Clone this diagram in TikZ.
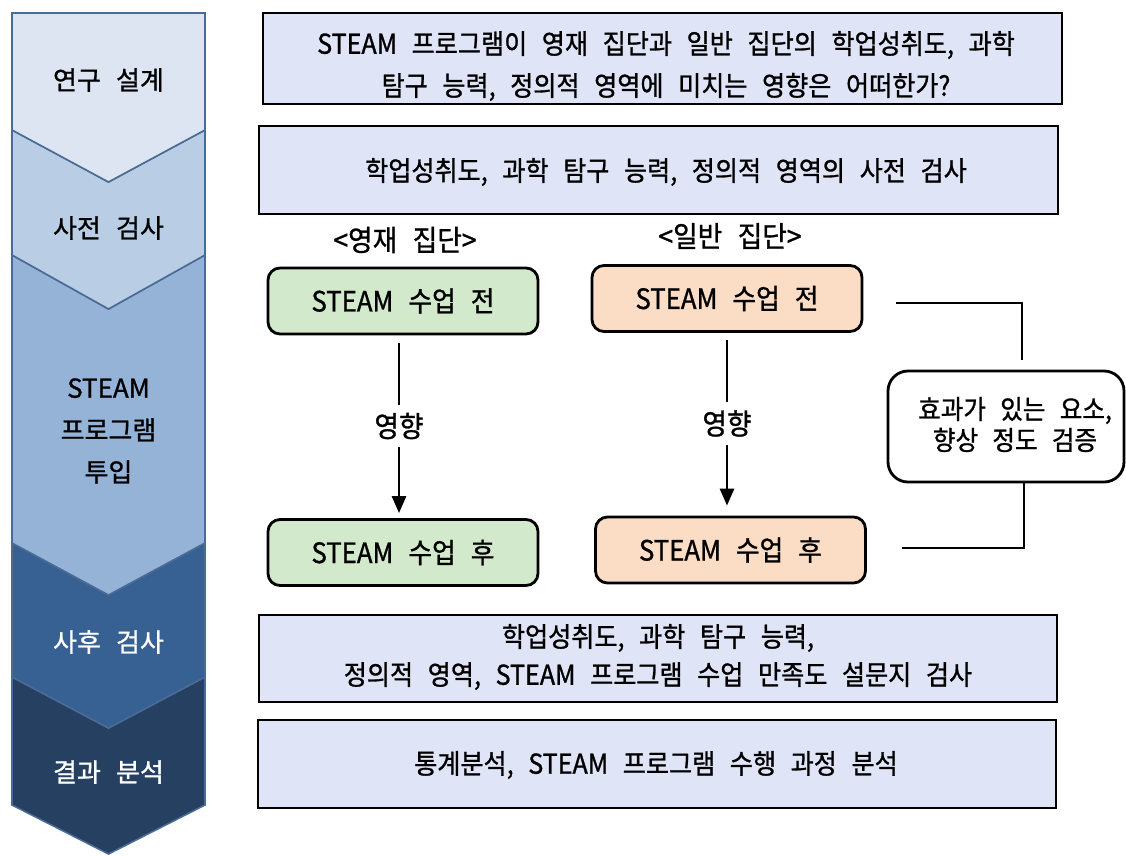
\documentclass[tikz,border=0pt]{standalone}
\usepackage{fontspec}
\setmainfont{Noto Sans CJK KR}[WordSpace=2.6, FakeBold=1]
\newfontfamily\boxfont{Noto Sans CJK KR}[WordSpace=2.6, FakeBold=1, FakeStretch=0.92]
\usetikzlibrary{arrows.meta}
\definecolor{chA}{HTML}{DCE5F1}
\definecolor{chB}{HTML}{B9CDE5}
\definecolor{chC}{HTML}{95B3D7}
\definecolor{chD}{HTML}{376093}
\definecolor{chE}{HTML}{254061}
\definecolor{chLine}{HTML}{4A6B96}
\definecolor{boxfill}{HTML}{E0E4F7}
\definecolor{grn}{HTML}{D2EACB}
\definecolor{org}{HTML}{FBDCC5}
\begin{document}
\begin{tikzpicture}[x=1pt,y=-1pt,
  chev/.style={draw=chLine, line width=1.6pt, line join=miter},
  lab/.style={font=\fontsize{26}{42}\selectfont, align=center, inner sep=0pt},
  qbox/.style={draw=black, line width=2.6pt, fill=boxfill, inner sep=0pt},
  txt/.style={font=\boxfont\fontsize{27.3}{40}\selectfont, align=center, inner sep=0pt},
  grp/.style={font=\boxfont\fontsize{29}{34}\selectfont, align=center, inner sep=0pt},
  rbox/.style={draw=black, line width=2.8pt, rounded corners=12pt, minimum width=270pt, minimum height=66pt, inner sep=0pt, font=\boxfont\fontsize{28}{30}\selectfont},
  conn/.style={line width=2.8pt},
  arr/.style={line width=2.8pt, -{Triangle[length=17pt,width=14pt]}}
]
\useasboundingbox (0,0) rectangle (1126,855);

% left chevron column
\path[chev, fill=chE] (12,677) -- (108.5,728) -- (205,677) -- (205,805) -- (108.5,854) -- (12,805) -- cycle;
\path[chev, fill=chD] (12,543) -- (108.5,595) -- (205,543) -- (205,677) -- (108.5,728) -- (12,677) -- cycle;
\path[chev, fill=chC] (12,255) -- (108.5,309) -- (205,255) -- (205,543) -- (108.5,595) -- (12,543) -- cycle;
\path[chev, fill=chB] (12,130) -- (108.5,182) -- (205,130) -- (205,255) -- (108.5,309) -- (12,255) -- cycle;
\path[chev, fill=chA] (12,13) -- (205,13) -- (205,130) -- (108.5,182) -- (12,130) -- cycle;

\node[lab] (s1) at (108.5,80) {연구 설계};
\node[lab] (s2) at (108.5,228) {사전 검사};
\node[lab] (s3) at (108.5,431) {STEAM\\프로그램\\투입};
\node[lab, text=white] (s4) at (108.5,642) {사후 검사};
\node[lab, text=white] (s5) at (108.5,772) {결과 분석};

% right boxes
\node[qbox, minimum width=799pt, minimum height=91pt] (q1) at (662.5,58.5) {};
\node[txt, font=\boxfont\fontsize{27.3}{42}\selectfont] (t1) at (666,66) {STEAM 프로그램이 영재 집단과 일반 집단의 학업성취도, 과학\\탐구 능력, 정의적 영역에 미치는 영향은 어떠한가?};

\node[qbox, minimum width=799pt, minimum height=88pt] (q2) at (658.5,170) {};
\node[txt] (t2) at (666,172) {학업성취도, 과학 탐구 능력, 정의적 영역의 사전 검사};

\node[grp] (g1) at (405,240) {<영재 집단>};
\node[grp] (g2) at (730,236) {<일반 집단>};

\node[rbox, fill=grn] (gt) at (403,301) {STEAM 수업 전};
\node[rbox, fill=org] (ot) at (727,298.5) {STEAM 수업 전};
\node[rbox, fill=grn] (gb) at (403,552.5) {STEAM 수업 후};
\node[rbox, fill=org] (ob) at (730.5,550) {STEAM 수업 후};

\node[grp, minimum height=42pt] (l1) at (399,426) {영향};
\node[grp, minimum height=43pt] (l2) at (727,423.5) {영향};

\draw[conn, shorten <=8pt] (l1.north |- gt.south) -- (l1.north);
\draw[arr, shorten >=5pt] (l1.south) -- (l1.south |- gb.north);
\draw[conn, shorten <=7pt] (l2.north |- ot.south) -- (l2.north);
\draw[arr, shorten >=10pt] (l2.south) -- (l2.south |- ob.north);

\node[draw=black, line width=2.8pt, rounded corners=20pt, fill=white, minimum width=236pt, minimum height=111pt, inner sep=0pt] (v) at (1006,426.5) {};
\node[txt, font=\boxfont\fontsize{26.7}{31}\selectfont] (vt) at (1015,424.5) {효과가 있는 요소,\\향상 정도 검증};

\coordinate (c1) at (896,303);
\coordinate (c2) at (902,548);
\draw[conn] (c1) -- (1022,303) -- (1022,360);
\draw[conn] (v.south -| 1024,0) -- (1024,548) -- (c2);

\node[qbox, minimum width=798pt, minimum height=87pt] (q4) at (658,658.5) {};
\node[txt, font=\boxfont\fontsize{27.3}{38}\selectfont] (t4) at (658,657) {학업성취도, 과학 탐구 능력,\\정의적 영역, STEAM 프로그램 수업 만족도 설문지 검사};

\node[qbox, minimum width=798pt, minimum height=88pt] (q5) at (657,764) {};
\node[txt] (t5) at (656,765) {통계분석, STEAM 프로그램 수행 과정 분석};
\end{tikzpicture}
\end{document}
